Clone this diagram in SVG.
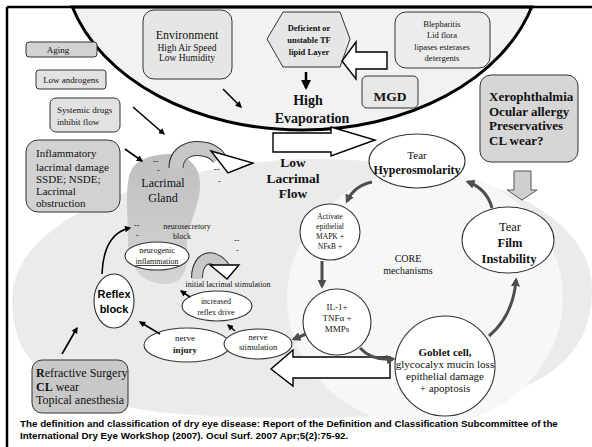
<svg xmlns="http://www.w3.org/2000/svg" width="592" height="447" viewBox="0 0 592 447">
<style>
.s{font-family:"Liberation Serif","Times New Roman",serif;fill:#111}
.b{font-weight:bold}
.a{font-family:"Liberation Sans",Arial,sans-serif;font-weight:bold;fill:#000}
.m{text-anchor:middle}
.bx{stroke:#333;stroke-width:1}
.el{fill:#fff;stroke:#333;stroke-width:1.1}
.ln{fill:none;stroke:#000;stroke-width:1.6;marker-end:url(#ah)}
.cr{fill:none;stroke:#4d4d4d;stroke-width:3;marker-end:url(#ag)}
.wa{fill:#fff;stroke:#000;stroke-width:1.4;stroke-linejoin:miter}
</style>
<defs>
<marker id="ah" viewBox="0 0 10 10" refX="8" refY="5" markerWidth="4" markerHeight="4" orient="auto"><path d="M0,0 L10,5 L0,10 z" fill="#000"/></marker>
<marker id="ag" viewBox="0 0 10 10" refX="7" refY="5" markerWidth="3" markerHeight="3" orient="auto"><path d="M0,0 L10,5 L0,10 z" fill="#4d4d4d"/></marker>
<linearGradient id="gl" x1="0" y1="0" x2="0" y2="1"><stop offset="0" stop-color="#bfbfbf"/><stop offset="1" stop-color="#d4d4d4"/></linearGradient>
</defs>
<rect width="592" height="447" fill="#fff"/>
<path d="M12,300 C12,228 120,176 280,160 C430,152 592,195 592,290 C592,382 500,418 300,418 C120,418 12,402 12,300 Z" fill="#ebebeb"/>
<ellipse cx="425" cy="298" rx="138" ry="128" fill="#f7f7f7"/>
<path d="M72.3,7 A239,170 0 0 0 531.7,7 Z" fill="#f2f2f2" stroke="#000" stroke-width="3"/>
<path d="M7,7 H592 M7,7 V447" fill="none" stroke="#000" stroke-width="2.5"/>

<g id="gland">
<path d="M158,155 C182,150 202,162 200,188 C198,212 186,226 187,250 C188,272 182,284 165,284 C142,284 128,266 128,242 C128,218 125,196 129,176 C133,162 145,157 158,155 Z" fill="url(#gl)"/>
<text class="s m" x="163" y="187" font-size="12">Lacrimal</text>
<text class="s m" x="163" y="202" font-size="12">Gland</text>
<text class="s" x="153" y="164" font-size="8">--</text>
<text class="s" x="157" y="173" font-size="8">-</text>
<text class="s" x="214" y="172" font-size="8">--</text>
<text class="s" x="218" y="184" font-size="8">-</text>
<text class="s" x="134" y="228" font-size="8">--</text>
<text class="s" x="136" y="238" font-size="8">-</text>
<text class="s" x="234" y="243" font-size="8">--</text>
<text class="s" x="236" y="253" font-size="8">-</text>
</g>

<g id="environment">
<rect class="bx" x="143" y="10" width="89" height="69" rx="11" fill="#e6e6e6"/>
<text class="s m" x="187" y="39" font-size="12">Environment</text>
<text class="s m" x="187" y="51" font-size="9.5">High Air Speed</text>
<text class="s m" x="187" y="61" font-size="9.5">Low Humidity</text>
</g>
<g id="lipid">
<polygon class="bx" points="267,39 283,12 340,12 350,39 340,67 283,67" fill="#e6e6e6"/>
<text class="s b m" x="309" y="31" font-size="8.5">Deficient or</text>
<text class="s b m" x="309" y="43" font-size="8.5">unstable TF</text>
<text class="s b m" x="309" y="55" font-size="8.5">lipid Layer</text>
</g>
<g id="blepharitis">
<rect class="bx" x="395" y="12" width="95" height="56" rx="11" fill="#ececec"/>
<text class="s m" x="442" y="27" font-size="8.5">Blepharitis</text>
<text class="s m" x="442" y="38" font-size="8.5">Lid flora</text>
<text class="s m" x="442" y="50" font-size="8.5">lipases esterases</text>
<text class="s m" x="442" y="61" font-size="8.5">detergents</text>
</g>
<g id="mgd">
<rect class="bx" x="362" y="76" width="56" height="32" rx="5" fill="#e8e8e8"/>
<text class="s b m" x="390" y="101" font-size="13.5">MGD</text>
</g>
<g id="evaporation">
<text class="s b m" x="308" y="105" font-size="14">High</text>
<text class="s b m" x="312" y="123" font-size="14">Evaporation</text>
</g>
<g id="xerophthalmia">
<rect class="bx" x="480" y="75" width="98" height="87" rx="11" fill="#d6d6d6"/>
<text class="s b" x="489" y="101" font-size="13">Xerophthalmia</text>
<text class="s b" x="489" y="116" font-size="13">Ocular allergy</text>
<text class="s b" x="489" y="130" font-size="13">Preservatives</text>
<text class="s b" x="489" y="145" font-size="13">CL wear?</text>
</g>
<g id="aging">
<rect class="bx" x="26" y="42" width="71" height="15" rx="3" fill="#d2d2d2"/>
<text class="s m" x="58" y="53" font-size="9">Aging</text>
</g>
<g id="androgens">
<rect class="bx" x="36" y="70" width="70" height="19" rx="3" fill="#e2e2e2"/>
<text class="s m" x="71" y="83" font-size="9">Low androgens</text>
</g>
<g id="systemic">
<rect class="bx" x="50" y="98" width="70" height="34" rx="6" fill="#e2e2e2"/>
<text class="s" x="57" y="113" font-size="9">Systemic drugs</text>
<text class="s" x="57" y="125" font-size="9">inhibit flow</text>
</g>
<g id="inflammatory">
<rect class="bx" x="26" y="140" width="94" height="72" rx="12" fill="#d2d2d2"/>
<text class="s" x="36" y="157" font-size="11">Inflammatory</text>
<text class="s" x="36" y="171" font-size="11">lacrimal damage</text>
<text class="s" x="36" y="183" font-size="11">SSDE; NSDE;</text>
<text class="s" x="36" y="195" font-size="11">Lacrimal</text>
<text class="s" x="36" y="207" font-size="11">obstruction</text>
</g>
<g id="low-flow">
<text class="s b m" x="293" y="167" font-size="13.5">Low</text>
<text class="s b m" x="293" y="183" font-size="13.5">Lacrimal</text>
<text class="s b m" x="293" y="198" font-size="13.5">Flow</text>
</g>
<g id="hyperosmolarity">
<ellipse class="el" cx="417" cy="161" rx="48" ry="27" stroke-width="1.4"/>
<text class="s m" x="417" y="159" font-size="11">Tear</text>
<text class="s b m" x="417" y="174" font-size="12">Hyperosmolarity</text>
</g>
<g id="activate">
<ellipse class="el" cx="330" cy="232" rx="30" ry="28" fill="#fafafa" stroke-width="0.8"/>
<text class="s m" x="330" y="219" font-size="7.5">Activate</text>
<text class="s m" x="330" y="229" font-size="7.5">epithelial</text>
<text class="s m" x="330" y="239" font-size="7.5">MAPK +</text>
<text class="s m" x="330" y="249" font-size="7.5">NFκB +</text>
</g>
<g id="core">
<text class="s m" x="408" y="262" font-size="10">CORE</text>
<text class="s m" x="408" y="274" font-size="10">mechanisms</text>
</g>
<g id="film">
<ellipse class="el" cx="508" cy="240" rx="46" ry="33" stroke-width="1.5"/>
<text class="s m" x="510" y="231" font-size="12.5">Tear</text>
<text class="s b m" x="510" y="247" font-size="12.5">Film</text>
<text class="s b m" x="509" y="263" font-size="12.5">Instability</text>
</g>
<g id="il1">
<ellipse class="el" cx="337" cy="322" rx="34" ry="33" fill="#fafafa" stroke-width="0.8"/>
<text class="s m" x="337" y="310" font-size="9">IL-1+</text>
<text class="s m" x="337" y="321" font-size="9">TNFα +</text>
<text class="s m" x="337" y="332" font-size="9">MMPs</text>
</g>
<g id="goblet">
<circle class="el" cx="445" cy="366" r="50" stroke-width="0.8"/>
<text class="s b m" x="445" y="356" font-size="11">Goblet cell,</text>
<text class="s m" x="445" y="368" font-size="11">glycocalyx mucin loss</text>
<text class="s m" x="445" y="380" font-size="11">epithelial damage</text>
<text class="s m" x="445" y="392" font-size="11">+ apoptosis</text>
</g>
<g id="neurosecretory">
<text class="s m" x="187" y="229" font-size="8">neurosecretory</text>
<text class="s m" x="182" y="239" font-size="8">block</text>
</g>
<g id="neurogenic">
<ellipse class="el" cx="157" cy="256" rx="32" ry="14"/>
<text class="s m" x="157" y="253" font-size="8">neurogenic</text>
<text class="s m" x="157" y="264" font-size="8" text-decoration="underline">inflammation</text>
</g>
<g id="initial">
<text class="s m" x="228" y="287" font-size="8">initial lacrimal stimulation</text>
</g>
<g id="increased">
<ellipse class="el" cx="217" cy="306" rx="35" ry="15"/>
<text class="s m" x="216" y="304" font-size="8">increased</text>
<text class="s m" x="216" y="315" font-size="8">reflex drive</text>
</g>
<g id="reflex">
<ellipse class="el" cx="114" cy="301" rx="20" ry="27"/>
<text class="a m" x="114" y="298" font-size="11">Reflex</text>
<text class="a m" x="114" y="313" font-size="11">block</text>
</g>
<g id="injury">
<ellipse class="el" cx="187" cy="345" rx="43" ry="17"/>
<text class="s m" x="185" y="341" font-size="9">nerve</text>
<text class="s b m" x="185" y="353" font-size="9">injury</text>
</g>
<g id="stimulation">
<ellipse class="el" cx="258" cy="344" rx="34" ry="15"/>
<text class="s m" x="258" y="340" font-size="8.5">nerve</text>
<text class="s m" x="258" y="350" font-size="8.5">stimulation</text>
</g>
<g id="refractive">
<rect class="bx" x="32" y="360" width="96" height="53" rx="10" fill="#c8c8c8"/>
<text class="s" x="36" y="377" font-size="12"><tspan font-weight="bold">R</tspan>efractive Surgery</text>
<text class="s" x="36" y="391" font-size="12"><tspan font-weight="bold">CL</tspan> wear</text>
<text class="s" x="36" y="404" font-size="12">Topical anesthesia</text>
</g>

<g id="connectors">
<polygon class="wa" points="273,133 331,133 331,127 375,140 331,156 331,152 273,152"/>
<polygon class="wa" points="387,52 356,52 356,42 342,61 356,79 356,69 387,69"/>
<polygon class="wa" points="390,357 293,357 293,350 271,369 293,386 293,378 390,378"/>
<polygon points="514,171 531,171 531,190 537,190 522,200 507,190 514,190" fill="#cfcfcf" stroke="#555" stroke-width="1"/>
<path d="M176,168 C176,152 190,147 203,149 C211,150 216,154 219,158" fill="none" stroke="#333" stroke-width="15"/>
<path d="M176,169 C176,152 190,147 203,149 C211,150 216,154 219,158" fill="none" stroke="#c8c8c8" stroke-width="13"/>
<polygon class="wa" points="211,151 253,163 228,173" stroke-width="1"/>
<path d="M197,278 C197,263 205,256 214,259 C219,261 222,264 224,267" fill="none" stroke="#333" stroke-width="12"/>
<path d="M197,279 C197,263 205,256 214,259 C219,261 222,264 224,267" fill="none" stroke="#c8c8c8" stroke-width="10"/>
<polygon class="wa" points="210,265 239,265 227,279" stroke-width="1"/>
<line x1="306" y1="72" x2="306" y2="88" stroke="#000" stroke-width="2.5" marker-end="url(#ah)"/>
<line class="ln" x1="223" y1="89" x2="241" y2="107"/>
<line class="ln" x1="133" y1="107" x2="164" y2="134"/>
<line class="ln" x1="125" y1="149" x2="142" y2="161"/>
<path class="ln" d="M102,274 C103,250 110,232 130,228"/>
<line class="ln" x1="160" y1="334" x2="140" y2="322"/>
<line class="ln" x1="235" y1="331" x2="228" y2="325"/>
<line class="ln" x1="190" y1="297" x2="181" y2="291"/>
<line class="ln" x1="62" y1="354" x2="77" y2="328"/>
<path class="cr" d="M372,182 Q354,186 347,201"/>
<line class="cr" x1="322" y1="261" x2="322" y2="286"/>
<path class="cr" d="M360,348 Q372,361 393,359"/>
<path class="cr" d="M489,336 Q513,316 516,280"/>
<path class="cr" d="M492,208 Q487,189 468,182"/>
<line class="cr" x1="306" y1="334" x2="294" y2="339" stroke-width="2"/>
</g>

<g id="caption">
<text class="a" x="20" y="427" font-size="9.8">The definition and classification of dry eye disease: Report of the Definition and Classification Subcommittee of the</text>
<text class="a" x="20" y="439" font-size="9.8">International Dry Eye WorkShop (2007). Ocul Surf. 2007 Apr;5(2):75-92.</text>
</g>
</svg>
